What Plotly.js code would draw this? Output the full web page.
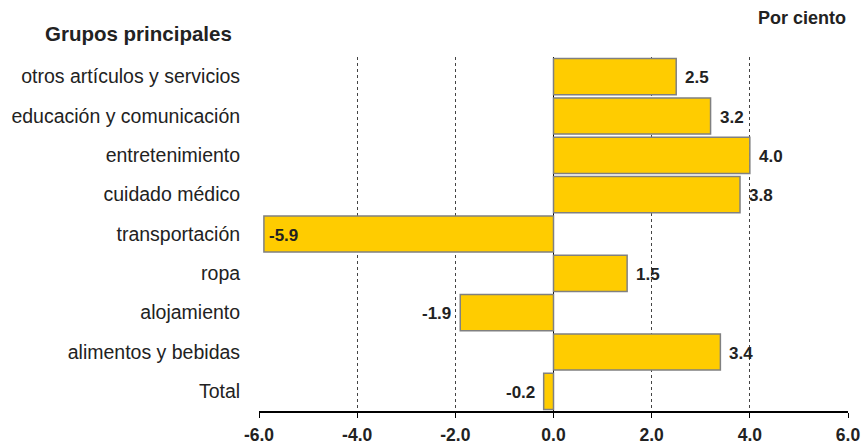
<!DOCTYPE html>
<html>
<head>
<meta charset="utf-8">
<script src="https://cdn.plot.ly/plotly-3.0.1.min.js"></script>
<style>html,body{margin:0;padding:0;background:#fff;}#chart{width:864px;height:445px;}</style>
</head>
<body>
<div id="chart"></div>
<script>
// Data (bottom to top)
const categories = ["Total", "alimentos y bebidas", "alojamiento", "ropa", "transportación",
  "cuidado médico", "entretenimiento", "educación y comunicación", "otros artículos y servicios"];
const values = [-0.2, 3.4, -1.9, 1.5, -5.9, 3.8, 4.0, 3.2, 2.5];
const xTickVals = [-6, -4, -2, 0, 2, 4, 6];
const xTickText = ["-6.0", "-4.0", "-2.0", "0.0", "2.0", "4.0", "6.0"];

const fontFam = "Liberation Sans";

const trace = {
  type: "bar",
  orientation: "h",
  y: categories,
  x: values,
  width: 0.92,
  marker: { color: "#FFCC00", line: { color: "#808080", width: 1.5 } },
  hoverinfo: "none"
};

const annotations = values.map((v, i) => {
  const inside = v < -3;
  let anchor, shift;
  if (v >= 0) { anchor = "left"; shift = 7; }
  else if (inside) { anchor = "left"; shift = 3; }
  else { anchor = "right"; shift = -7; }
  return {
    x: v, y: categories[i], xref: "x", yref: "y",
    text: "<b>" + v.toFixed(1) + "</b>", showarrow: false,
    xanchor: anchor, xshift: shift, yshift: -1,
    font: { family: fontFam, size: 17, color: "#222" }
  };
});

annotations.push({
  xref: "paper", yref: "paper", x: -0.205, y: 1.0, yshift: 24,
  xanchor: "center", yanchor: "middle",
  text: "<b>Grupos principales</b>", showarrow: false,
  font: { family: fontFam, size: 20.5, color: "#222" }
});
annotations.push({
  xref: "paper", yref: "paper", x: 1.0, y: 1.0, xshift: 0, yshift: 39,
  xanchor: "right", yanchor: "middle",
  text: "<b>Por ciento</b>", showarrow: false,
  font: { family: fontFam, size: 18, color: "#222" }
});

const layout = {
  width: 864, height: 445,
  margin: { l: 259, r: 16, t: 57, b: 34 },
  paper_bgcolor: "#fff", plot_bgcolor: "#fff",
  showlegend: false,
  bargap: 0.08,
  xaxis: {
    range: [-6, 6],
    tickvals: xTickVals, ticktext: xTickText,
    showgrid: true, gridcolor: "#444", griddash: "dot", gridwidth: 1,
    zeroline: true, zerolinecolor: "#000", zerolinewidth: 1.5,
    showline: true, linecolor: "#000", linewidth: 1.5,
    ticks: "outside", ticklen: 5, tickcolor: "#000",
    ticklabelstandoff: 2,
    tickfont: { family: fontFam, size: 17.5, color: "#222", weight: "bold" },
    fixedrange: true
  },
  yaxis: {
    type: "category",
    categoryorder: "array", categoryarray: categories,
    range: [-0.5, categories.length - 0.5],
    showgrid: false, zeroline: false, showline: false,
    ticks: "outside", ticklen: 14, tickcolor: "rgba(0,0,0,0)",
    tickfont: { family: fontFam, size: 19.5, color: "#222" },
    fixedrange: true
  },
  annotations: annotations
};

Plotly.newPlot("chart", [trace], layout, { displayModeBar: false, staticPlot: true });
</script>
</body>
</html>
